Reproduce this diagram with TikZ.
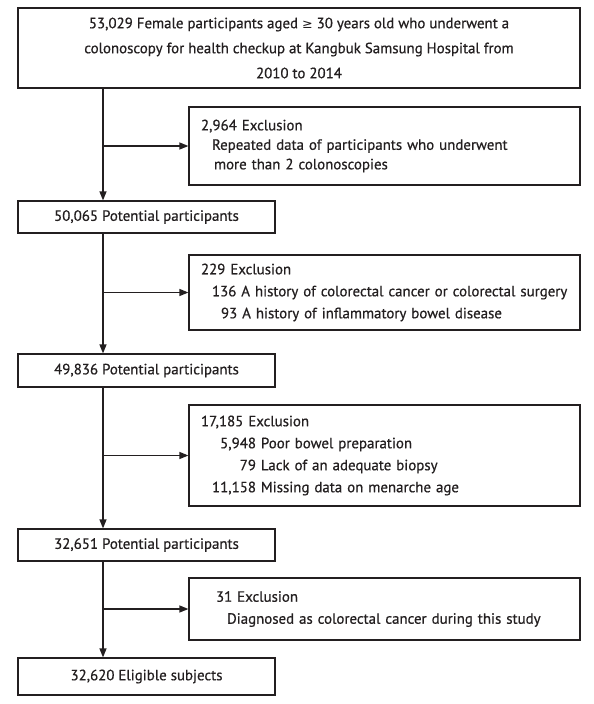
\documentclass[tikz,border=0pt]{standalone}
\usepackage{fontspec}
\setmainfont{PT Sans}[UprightFeatures={FakeBold=0.6}]
\usetikzlibrary{arrows.meta}
\definecolor{ink}{HTML}{231F20}
\begin{document}
\begin{tikzpicture}[x=1pt,y=-1pt,
  every node/.style={text=ink, font=\fontsize{14.9}{22}\selectfont},
  mainbox/.style={draw=ink, line width=1.2pt, inner sep=0pt, align=center},
  exclbox/.style={draw=ink, line width=1.2pt, inner xsep=12pt, inner ysep=0pt,
     text width=367pt, align=left, minimum width=391pt},
  arr/.style={draw=ink, line width=1.3pt, -{Triangle[length=9pt,width=7pt]}}]
\useasboundingbox (0,0) rectangle (594,704);
\coordinate (spine) at (103,0);
\node[mainbox, minimum width=562pt, minimum height=80pt,
  font=\fontsize{14.9}{25}\selectfont] (top) at (299,48)
  {53,029 Female participants aged {\fontspec{DejaVu Sans}\fontsize{12.7}{25}\selectfont ≥} 30 years old who underwent a\\
   colonoscopy for health checkup at Kangbuk Samsung Hospital from\\
   2010 to 2014};
\node[exclbox, minimum height=78pt, font=\fontsize{14.9}{19.5}\selectfont] (e1) at (384.5,146)
  {2,964 Exclusion\\
   \hspace*{11pt}Repeated data of participants who underwent\\
   \hspace*{13pt}more than 2 colonoscopies};
\node[mainbox, minimum width=257pt, minimum height=32pt] (b1) at (146.5,217) {50,065 Potential participants};
\node[exclbox, minimum height=75pt] (e2) at (384.5,292.5)
  {229 Exclusion\\
   \hspace*{11pt}136 A history of colorectal cancer or colorectal surgery\\
   \hspace*{20pt}93 A history of inflammatory bowel disease};
\node[mainbox, minimum width=257pt, minimum height=33pt] (b2) at (146.5,370.5) {49,836 Potential participants};
\node[exclbox, minimum height=101pt] (e3) at (384.5,455.5)
  {17,185 Exclusion\\
   \hspace*{11pt}\makebox[44pt][r]{5,948} Poor bowel preparation\\
   \hspace*{11pt}\makebox[44pt][r]{79} Lack of an adequate biopsy\\
   \hspace*{11pt}\makebox[44pt][r]{11,158} Missing data on menarche age};
\node[mainbox, minimum width=257pt, minimum height=32pt] (b3) at (146.5,545) {32,651 Potential participants};
\node[exclbox, minimum height=62pt] (e4) at (384.5,609)
  {\hspace*{15pt}31 Exclusion\\
   \hspace*{26pt}Diagnosed as colorectal cancer during this study};
\node[mainbox, minimum width=257pt, minimum height=37pt] (b4) at (146.5,676.5) {32,620 Eligible subjects};
\draw[arr] (top.south -| spine) -- (b1.north -| spine);
\draw[arr] (b1.south -| spine) -- (b2.north -| spine);
\draw[arr] (b2.south -| spine) -- (b3.north -| spine);
\draw[arr] (b3.south -| spine) -- (b4.north -| spine);
\draw[arr] (e1.west -| spine) -- (e1.west);
\draw[arr] (e2.west -| spine) -- (e2.west);
\draw[arr] (e3.west -| spine) -- (e3.west);
\draw[arr] (e4.west -| spine) -- (e4.west);
\end{tikzpicture}
\end{document}
